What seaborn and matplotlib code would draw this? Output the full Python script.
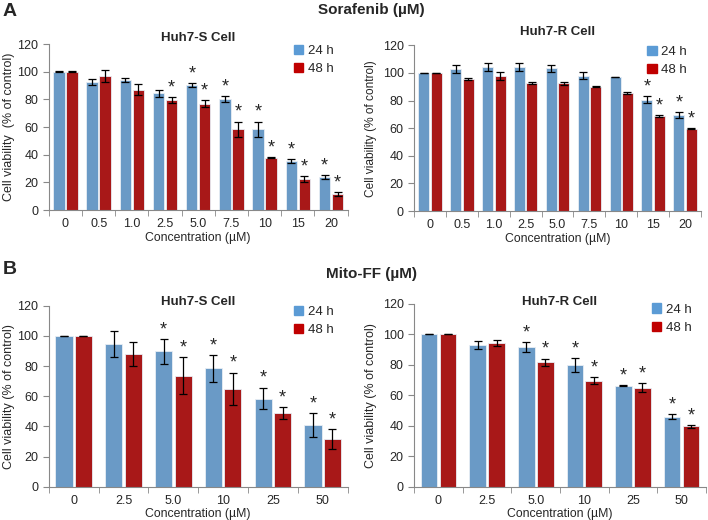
import numpy as np
import pandas as pd
import matplotlib
matplotlib.use("Agg")
import matplotlib.pyplot as plt
import seaborn as sns
from matplotlib.patches import Patch

# ---- data ----
sora_conc = ["0", "0.5", "1.0", "2.5", "5.0", "7.5", "10", "15", "20"]
mito_conc = ["0", "2.5", "5.0", "10", "25", "50"]

# Sorafenib, Huh7-S
sora_s_24 = [100, 92.5, 94, 84.5, 90.5, 80.5, 58.5, 35.5, 24]
sora_s_24_err = [0.3, 2, 1.5, 2.5, 1.5, 2, 5.5, 1.5, 1.2]
sora_s_48 = [100, 97, 87, 79.5, 77, 58.5, 38, 22.5, 11.5]
sora_s_48_err = [0.3, 4, 4, 2, 2.5, 5.5, 0.5, 2, 1.5]
sora_s_star24 = ["5.0", "7.5", "10", "15", "20"]
sora_s_star48 = ["2.5", "5.0", "7.5", "10", "15", "20"]

# Sorafenib, Huh7-R
sora_r_24 = [100, 103, 104.5, 104.5, 103.5, 98, 97, 80.5, 69.5]
sora_r_24_err = [0.2, 3, 3, 3, 2.5, 2.5, 0.3, 2.5, 2]
sora_r_48 = [100, 95.5, 97.5, 93, 92.5, 90, 85.5, 69, 59.5]
sora_r_48_err = [0.2, 0.5, 3, 0.7, 1, 0.5, 0.7, 0.7, 0.3]
sora_r_star24 = ["15", "20"]
sora_r_star48 = ["15", "20"]

# Mito-FF, Huh7-S
mito_s_24 = [100, 94.5, 89.8, 78.5, 58.5, 41]
mito_s_24_err = [0.2, 8.7, 8.3, 8.8, 7.2, 8]
mito_s_48 = [100, 88, 73.5, 65, 49, 31.5]
mito_s_48_err = [0.2, 7.7, 12.2, 10.6, 3.8, 6.7]
mito_s_star24 = ["5.0", "10", "25", "50"]
mito_s_star48 = ["5.0", "10", "25", "50"]

# Mito-FF, Huh7-R
mito_r_24 = [100, 93, 91.5, 80, 66.3, 46]
mito_r_24_err = [0.2, 2.5, 3.5, 4.5, 0.3, 1.5]
mito_r_48 = [100, 94.5, 81.5, 69.5, 65, 39.5]
mito_r_48_err = [0.2, 2, 2.5, 2.2, 2.8, 1]
mito_r_star24 = ["5.0", "10", "25", "50"]
mito_r_star48 = ["5.0", "10", "25", "50"]

BLUE = "#5b9bd5"
RED = "#c00000"
AXIS_GREY = "#888888"

sns.set_style("ticks")
plt.rcParams['font.family'] = ['Liberation Sans', 'DejaVu Sans']


def draw_panel(ax, conc, v24, e24, v48, e48, star24, star48, title, ylab,
               title_off, ylab_x, ylab_size=9):
    df = pd.DataFrame({
        "conc": conc * 2,
        "viability": v24 + v48,
        "err": e24 + e48,
        "time": ["24 h"] * len(conc) + ["48 h"] * len(conc),
    })
    sns.barplot(data=df, x="conc", y="viability", hue="time", order=conc,
                hue_order=["24 h", "48 h"], palette=[BLUE, RED],
                errorbar=None, width=0.78, gap=0.12, ax=ax,
                edgecolor="#e8eef5", linewidth=0.6, legend=False)

    # error bars and significance stars on each bar
    n = len(conc)
    for i, bar in enumerate(ax.patches[:2 * n]):
        row = df.iloc[i]
        xc = bar.get_x() + bar.get_width() / 2
        ax.errorbar(xc, row["viability"], yerr=row["err"], fmt="none",
                    ecolor="black", elinewidth=0.9, capsize=2.8, capthick=0.9)
        stars = star24 if row["time"] == "24 h" else star48
        if row["conc"] in stars:
            ax.text(xc, row["viability"] + row["err"] + 0.5, "*",
                    ha="center", va="bottom", fontsize=13)

    ax.set_ylim(0, 120)
    ax.set_yticks(np.arange(0, 121, 20))
    ax.set_xlim(-0.5, n - 0.5)
    ax.set_xticks(range(n))
    ax.set_xticklabels(conc)
    ax.set_xticks(np.arange(-0.5, n, 1.0), minor=True)
    ax.tick_params(axis="x", which="major", length=0, labelsize=9, pad=6)
    ax.tick_params(axis="x", which="minor", length=4, color=AXIS_GREY)
    ax.tick_params(axis="y", length=4, labelsize=9, color=AXIS_GREY)
    ax.set_xlabel("Concentration (\u00b5M)", fontsize=8.8, labelpad=1)
    ax.set_ylabel(ylab, fontsize=ylab_size)
    ax.yaxis.set_label_coords(ylab_x, 0.5)

    # panel title, offset in pixels above the top of the axes
    h_px = ax.get_position().height * fig.get_figheight() * fig.dpi
    ax.text(0.5, 1 + title_off / h_px, title, transform=ax.transAxes,
            ha="center", va="center", fontsize=9.5, fontweight="bold")

    for s in ["left", "bottom"]:
        ax.spines[s].set_color(AXIS_GREY)
    sns.despine(ax=ax)

    handles = [Patch(color=BLUE, label="24 h"), Patch(color=RED, label="48 h")]
    ax.legend(handles=handles, loc="upper right", frameon=False, fontsize=9.5,
              handlelength=0.7, handleheight=0.7, handletextpad=0.35,
              labelspacing=0.45, borderaxespad=0.0, bbox_to_anchor=(0.97, 1.03))


fig = plt.figure(figsize=(7.08, 5.2), dpi=100)
ax1 = fig.add_axes([0.069, 0.596, 0.422, 0.319])
ax2 = fig.add_axes([0.585, 0.594, 0.405, 0.319])
ax3 = fig.add_axes([0.069, 0.064, 0.422, 0.348])
ax4 = fig.add_axes([0.585, 0.064, 0.412, 0.352])

draw_panel(ax1, sora_conc, sora_s_24, sora_s_24_err, sora_s_48, sora_s_48_err,
           sora_s_star24, sora_s_star48, "Huh7-S Cell",
           "Cell viability  (% of control)", 6, -0.112)
draw_panel(ax2, sora_conc, sora_r_24, sora_r_24_err, sora_r_48, sora_r_48_err,
           sora_r_star24, sora_r_star48, "Huh7-R Cell",
           "Cell viability (% of control)", 13, -0.128, ylab_size=8.6)
draw_panel(ax3, mito_conc, mito_s_24, mito_s_24_err, mito_s_48, mito_s_48_err,
           mito_s_star24, mito_s_star48, "Huh7-S Cell",
           "Cell viability (% of control)", 4, -0.112)
draw_panel(ax4, mito_conc, mito_r_24, mito_r_24_err, mito_r_48, mito_r_48_err,
           mito_r_star24, mito_r_star48, "Huh7-R Cell",
           "Cell viability (% of control)", 2, -0.126)

fig.text(0.004, 1 - 12 / 520, "A", fontsize=14, fontweight="bold", va="center")
fig.text(371 / 708, 1 - 10 / 520, "Sorafenib (\u00b5M)", fontsize=11,
         fontweight="bold", ha="center", va="center")
fig.text(0.004, 1 - 270 / 520, "B", fontsize=14, fontweight="bold", va="center")
fig.text(371 / 708, 1 - 274 / 520, "Mito-FF (\u00b5M)", fontsize=11,
         fontweight="bold", ha="center", va="center")

fig.savefig("out.png", dpi=100)
